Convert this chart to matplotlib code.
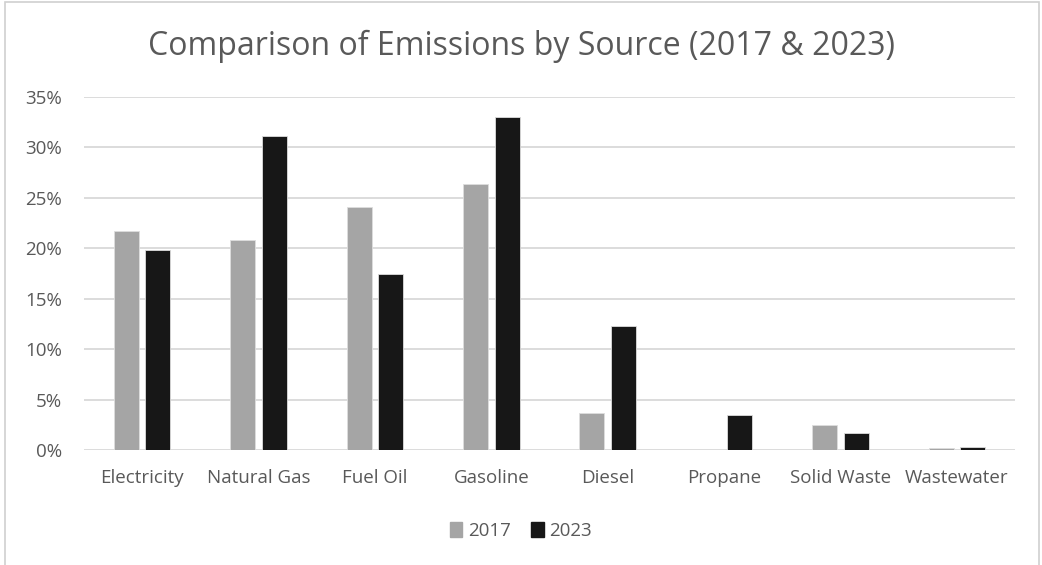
import matplotlib.pyplot as plt
import matplotlib.patches as mpatches
from matplotlib.ticker import FuncFormatter
import numpy as np

plt.rcParams['font.family'] = ['Open Sans', 'DejaVu Sans']

# Data (percent of total emissions)
sources = ['Electricity', 'Natural Gas', 'Fuel Oil', 'Gasoline', 'Diesel',
           'Propane', 'Solid Waste', 'Wastewater']
pct_2017 = [21.7, 20.8, 24.1, 26.4, 3.7, 0.0, 2.5, 0.2]
pct_2023 = [19.8, 31.1, 17.5, 33.0, 12.3, 3.5, 1.7, 0.3]

text_color = '#595959'
fig = plt.figure(figsize=(10.42, 5.65), dpi=100)
ax = fig.add_axes([84 / 1042, 1 - 450 / 565, 931 / 1042, 353 / 565])

x = np.arange(len(sources))
w = 0.215
ax.bar(x - 0.135, pct_2017, w, color='#A5A5A5', edgecolor='#DDDDDD', linewidth=0.6,
       label='2017', zorder=3)
ax.bar(x + 0.135, pct_2023, w, color='#171717', edgecolor='#DDDDDD', linewidth=0.6,
       label='2023', zorder=3)

ax.set_xlim(-0.5, len(sources) - 0.5)
ax.set_ylim(0, 35)
ax.set_yticks(np.arange(0, 36, 5))
ax.yaxis.set_major_formatter(FuncFormatter(lambda v, p: f'{v:.0f}%'))
ax.set_xticks(x)
ax.set_xticklabels(sources)
ax.grid(axis='y', color='#D9D9D9', linewidth=1.3, zorder=0)
for s in ax.spines.values():
    s.set_visible(False)
ax.tick_params(length=0, labelsize=13.5, colors=text_color)
ax.tick_params(axis='x', pad=14)
ax.tick_params(axis='y', pad=16)

fig.text(0.5, 1 - 46 / 565, 'Comparison of Emissions by Source (2017 & 2023)',
         ha='center', va='center', fontsize=23, color=text_color)

handles = [mpatches.Patch(color='#A5A5A5', label='2017'),
           mpatches.Patch(color='#171717', label='2023')]
fig.legend(handles=handles, loc='center', bbox_to_anchor=(0.5, 1 - 531 / 565),
           ncol=2, frameon=False, fontsize=13.5, handlelength=0.65, handleheight=0.9,
           handletextpad=0.3, columnspacing=1.1, labelcolor=text_color)

# light border around the chart area
fig.add_artist(mpatches.Rectangle((5 / 1042, -0.01), 1034 / 1042, 1 - 2 / 565 + 0.01,
                                  transform=fig.transFigure, fill=False,
                                  edgecolor='#D0D0D0', linewidth=1.2))

fig.savefig('out.png', dpi=100)
